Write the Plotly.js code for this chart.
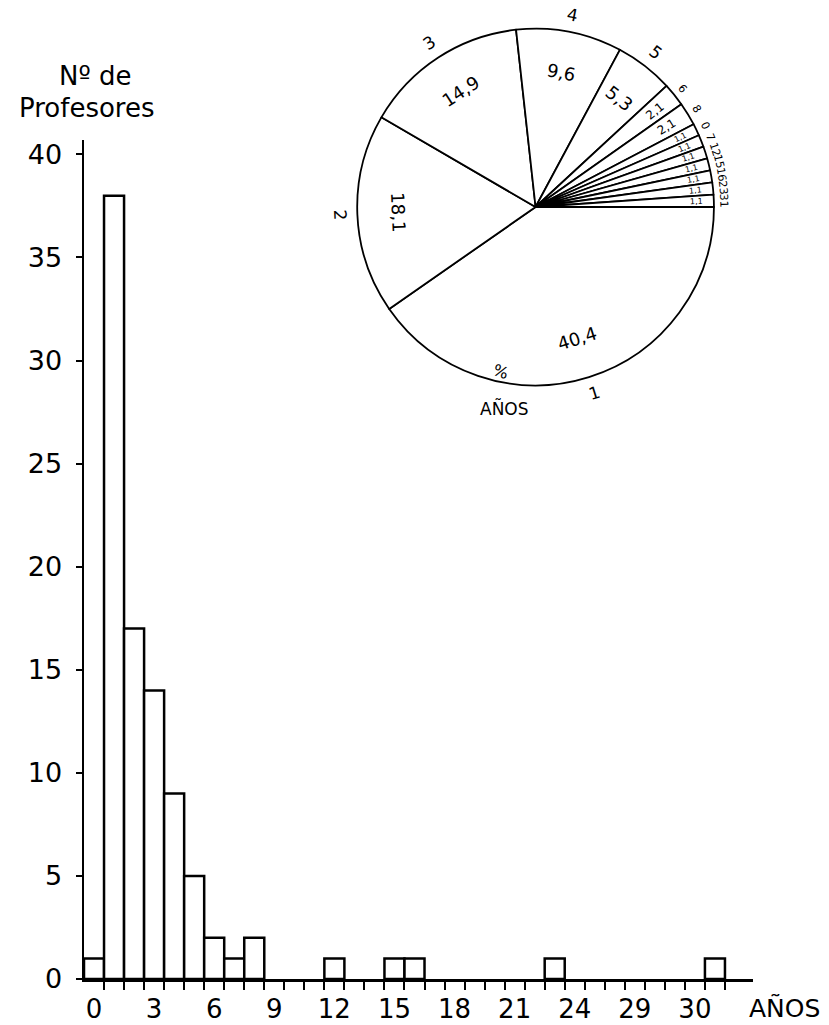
<!DOCTYPE html>
<html>
<head>
<meta charset="utf-8">
<script src="https://cdn.plot.ly/plotly-3.0.1.min.js"></script>
<style>html,body{margin:0;padding:0;background:#fff;}#chart{width:829px;height:1025px;}</style>
</head>
<body>
<div id="chart"></div>
<script>
// Histogram data: years of teaching (AÑOS) vs number of teachers
const years = [0, 1, 2, 3, 4, 5, 6, 7, 8, 12, 15, 16, 23, 31];
const counts = [1, 38, 17, 14, 9, 5, 2, 1, 2, 1, 1, 1, 1, 1];

// X tick labels as printed on the original
const xTickVals = [0, 3, 6, 9, 12, 15, 18, 21, 24, 27, 30];
const xTickText = ['0', '3', '6', '9', '12', '15', '18', '21', '24', '29', '30'];
const yTickVals = [0, 5, 10, 15, 20, 25, 30, 35, 40];

// Pie data (percent by years), in drawing order
const pieLabels = ['1', '2', '3', '4', '5', '6', '8', '0', '7', '12', '15', '16', '23', '31'];
const piePct = [40.4, 18.1, 14.9, 9.6, 5.3, 2.1, 2.1, 1.1, 1.1, 1.1, 1.1, 1.1, 1.1, 1.1];

const pctText = piePct.map(v => v.toFixed(1).replace('.', ','));
const halfTicks = [];
for (let v = 0.5; v <= 31.5; v += 1) halfTicks.push(v);

const font = 'DejaVu Sans, Liberation Sans, sans-serif';
const W = 829, H = 1025;
const M = {l: 84, r: 76, t: 20, b: 46};
const PW = W - M.l - M.r, PH = H - M.t - M.b;
const pieDomain = {x: [0.408, 0.942], y: [0.619, 0.991]};

// Pie geometry (same rule Plotly uses: radius = half the smaller domain side)
const pcx = (pieDomain.x[0] + pieDomain.x[1]) / 2;
const pcy = (pieDomain.y[0] + pieDomain.y[1]) / 2;
const pr = Math.min((pieDomain.x[1] - pieDomain.x[0]) * PW, (pieDomain.y[1] - pieDomain.y[0]) * PH) / 2;
const total = piePct.reduce((a, b) => a + b, 0);

const pieAnn = [];
let cum = 0;
piePct.forEach((p, i) => {
  const phi = (cum + p / 2) / total * 360; // clockwise from 3 o'clock (screen)
  cum += p;
  const rad = phi * Math.PI / 180;
  const pos = rr => ({x: pcx + rr * Math.cos(rad) / PW, y: pcy - rr * Math.sin(rad) / PH});
  const upright = (phi > 0 && phi < 180) ? phi - 90 : phi + 90;
  const big = p >= 5;
  const mid = p >= 2;
  // value inside the slice
  const ip = pos(pr * (big ? 0.77 : (mid ? 0.86 : 0.9)));
  pieAnn.push({
    text: pctText[i], xref: 'paper', yref: 'paper', x: ip.x, y: ip.y,
    showarrow: false, xanchor: 'center', yanchor: 'middle',
    textangle: big ? upright : phi - 360,
    font: {family: font, size: big ? 18 : (mid ? 12 : 8), color: '#000'}
  });
  // years label outside the circle
  const op = pos(pr + (big ? 17 : 10));
  pieAnn.push({
    text: pieLabels[i], xref: 'paper', yref: 'paper', x: op.x, y: op.y,
    showarrow: false, xanchor: 'center', yanchor: 'middle',
    textangle: upright,
    font: {family: font, size: big ? 17 : 11, color: '#000'}
  });
});

const traces = [
  {
    type: 'bar', x: years, y: counts, width: 1,
    marker: {color: '#ffffff', line: {color: '#000', width: 2.5}},
    hoverinfo: 'skip', showlegend: false
  },
  {
    type: 'pie', labels: pieLabels, values: piePct, sort: false,
    direction: 'clockwise', rotation: 90, domain: pieDomain,
    textinfo: 'none',
    marker: {colors: piePct.map(() => '#ffffff'), line: {color: '#000', width: 1.8}},
    hoverinfo: 'skip', showlegend: false
  }
];

const layout = {
  width: W, height: H,
  margin: M,
  paper_bgcolor: '#fff', plot_bgcolor: '#fff',
  showlegend: false,
  bargap: 0,
  font: {family: font, color: '#000'},
  xaxis: {
    range: [-0.5, 32.9], showgrid: false, zeroline: false,
    showline: true, linecolor: '#000', linewidth: 2.5,
    tickmode: 'array', tickvals: xTickVals, ticktext: xTickText,
    ticks: 'outside', ticklen: 0, tickcolor: '#000',
    ticklabelstandoff: 5,
    tickfont: {family: font, size: 26, color: '#000'},
    minor: {tickmode: 'array', tickvals: halfTicks, ticks: 'outside', ticklen: 8, tickwidth: 2, tickcolor: '#000', showgrid: false}
  },
  yaxis: {
    domain: [0, 0.8749],
    range: [0, 40.7], showgrid: false, zeroline: false,
    showline: true, linecolor: '#000', linewidth: 2.5,
    tickmode: 'array', tickvals: yTickVals,
    ticks: 'outside', ticklen: 6, tickwidth: 2, tickcolor: '#000',
    ticklabelstandoff: 8,
    tickfont: {family: font, size: 27, color: '#000'}
  },
  annotations: [
    {text: 'Nº de', xref: 'paper', yref: 'paper', x: 0.0164, y: 0.9416, showarrow: false, xanchor: 'center', yanchor: 'middle', font: {family: font, size: 26, color: '#000'}},
    {text: 'Profesores', xref: 'paper', yref: 'paper', x: 0.0045, y: 0.908, showarrow: false, xanchor: 'center', yanchor: 'middle', font: {family: font, size: 26, color: '#000'}},
    {text: 'AÑOS', xref: 'paper', yref: 'paper', x: 1.047, y: -0.0302, showarrow: false, xanchor: 'center', yanchor: 'middle', font: {family: font, size: 25, color: '#000'}},
    {text: '%', xref: 'paper', yref: 'paper', x: 0.622, y: 0.633, showarrow: false, xanchor: 'center', yanchor: 'middle', textangle: 20, font: {family: font, size: 16, color: '#000'}},
    {text: 'AÑOS', xref: 'paper', yref: 'paper', x: 0.629, y: 0.595, showarrow: false, xanchor: 'center', yanchor: 'middle', font: {family: font, size: 17, color: '#000'}}
  ].concat(pieAnn)
};

Plotly.newPlot('chart', traces, layout, {staticPlot: true, displayModeBar: false});
</script>
</body>
</html>
